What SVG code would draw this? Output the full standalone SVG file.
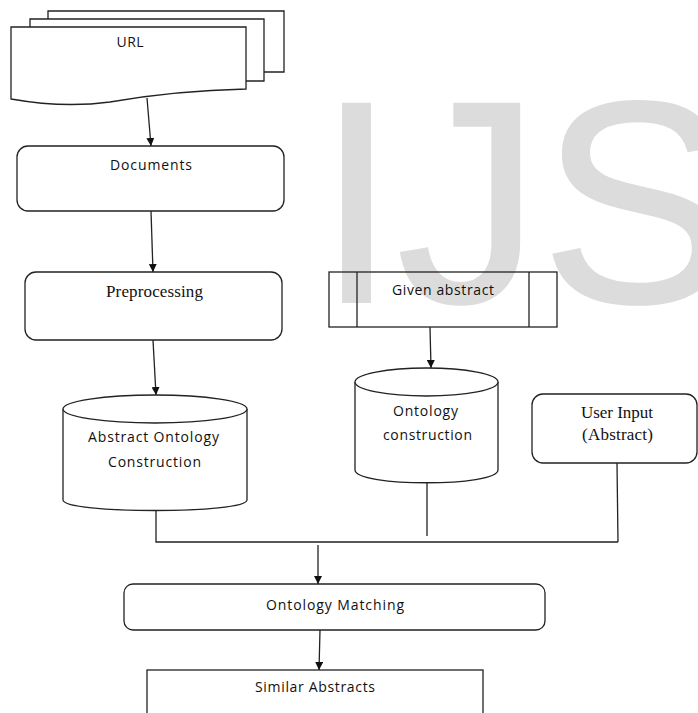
<svg xmlns="http://www.w3.org/2000/svg" width="698" height="713" viewBox="0 0 698 713">
<defs>
<marker id="ah" viewBox="0 0 10 10" refX="10" refY="5" markerWidth="8" markerHeight="8" markerUnits="userSpaceOnUse" orient="auto">
<path d="M0,0 L10,5 L0,10 Z" fill="#111"/>
</marker>
<style>
.s{fill:#fff;stroke:#222;stroke-width:1.3}
.n{fill:none;stroke:#222;stroke-width:1.3}
.c{fill:none;stroke:#222;stroke-width:1.3}
.a{marker-end:url(#ah)}
.t{font-family:"Open Sans","Liberation Sans",sans-serif;font-size:14px;fill:#111;text-anchor:middle}
.r{font-family:"Liberation Serif","Times New Roman",serif;font-size:17px;fill:#111;text-anchor:middle}
.w{font-family:"Liberation Sans",Arial,sans-serif;font-size:288px;fill:#dcdcdc;stroke:#dcdcdc;stroke-width:2}
</style>
</defs>
<rect width="698" height="713" fill="#fff"/>
<text class="w" x="316.5" y="302">IJS</text>
<g id="url">
<path class="s" d="M48,19 V11 H284 V72 H264"/>
<path class="s" d="M30,27 V19 H264 V81 H246"/>
<path class="s" d="M11,27 H246 V89 C200,90 150,95 110,102 C80,106 45,105 11,99 Z"/>
<text class="t" x="130" y="47" textLength="27" lengthAdjust="spacing">URL</text>
</g>
<g id="documents">
<rect class="s" x="17" y="146" width="267" height="65" rx="11"/>
<text class="t" x="151" y="170" textLength="82" lengthAdjust="spacing">Documents</text>
</g>
<g id="preprocessing">
<rect class="s" x="25" y="272" width="257" height="68" rx="11"/>
<text class="r" x="154.5" y="297" textLength="97" lengthAdjust="spacing">Preprocessing</text>
</g>
<g id="given">
<rect class="n" x="329" y="272" width="228" height="55"/>
<line class="n" x1="357" y1="272" x2="357" y2="327"/>
<line class="n" x1="529" y1="272" x2="529" y2="327"/>
<text class="t" x="443" y="295" textLength="102" lengthAdjust="spacing">Given abstract</text>
</g>
<g id="abstract-ontology">
<path class="s" d="M63,409 V500 C63,514 247,514 247,500 V409"/>
<ellipse class="s" cx="155" cy="409" rx="92" ry="14"/>
<text class="t" x="153.5" y="442" textLength="131" lengthAdjust="spacing">Abstract Ontology</text>
<text class="t" x="154.5" y="467" textLength="93" lengthAdjust="spacing">Construction</text>
</g>
<g id="ontology-construction">
<path class="s" d="M355,382 V470 C355,487 498,487 498,470 V382"/>
<ellipse class="s" cx="426.5" cy="382" rx="71.5" ry="14"/>
<text class="t" x="425.5" y="416" textLength="65" lengthAdjust="spacing">Ontology</text>
<text class="t" x="427.5" y="440" textLength="89" lengthAdjust="spacing">construction</text>
</g>
<g id="user-input">
<rect class="s" x="532" y="394" width="165" height="69" rx="11"/>
<text class="r" x="617" y="418" textLength="72" lengthAdjust="spacing">User Input</text>
<text class="r" x="617.5" y="440" textLength="71" lengthAdjust="spacing">(Abstract)</text>
</g>
<g id="matching">
<rect class="s" x="124" y="584" width="421" height="46" rx="9"/>
<text class="t" x="335" y="610" textLength="138" lengthAdjust="spacing">Ontology Matching</text>
</g>
<g id="similar">
<rect class="s" x="147" y="670" width="336" height="60"/>
<text class="t" x="315" y="692" textLength="120" lengthAdjust="spacing">Similar Abstracts</text>
</g>
<g id="connectors">
<line class="c a" x1="147" y1="98" x2="151" y2="146"/>
<line class="c a" x1="151" y1="211" x2="153" y2="272"/>
<line class="c a" x1="153" y1="340" x2="156" y2="395"/>
<line class="c a" x1="430" y1="327" x2="431" y2="368"/>
<polyline class="c" points="156,510 156,542 618,542"/>
<line class="c" x1="427" y1="483" x2="427" y2="536"/>
<line class="c" x1="617" y1="463" x2="618" y2="542"/>
<line class="c a" x1="318" y1="545" x2="318" y2="584"/>
<line class="c a" x1="320" y1="630" x2="319" y2="670"/>
</g>
</svg>
